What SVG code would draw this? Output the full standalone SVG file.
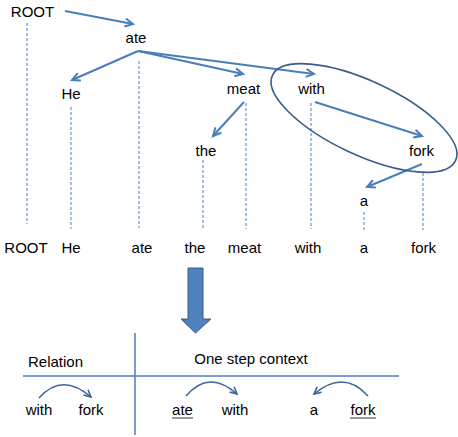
<svg xmlns="http://www.w3.org/2000/svg" width="458" height="437" viewBox="0 0 458 437">
<defs>
<marker id="ah" markerUnits="userSpaceOnUse" markerWidth="12" markerHeight="12" refX="9" refY="5" orient="auto">
<path d="M1,1 L9,5 L1,9" fill="none" stroke="#4a7ebb" stroke-width="2" stroke-linejoin="miter"/>
</marker>
<marker id="ah2" markerUnits="userSpaceOnUse" markerWidth="12" markerHeight="12" refX="8" refY="4.5" orient="auto">
<path d="M1,1 L8,4.5 L1,8" fill="none" stroke="#3b6598" stroke-width="1.6"/>
</marker>
</defs>
<style>
text{font-family:"Liberation Sans",Arial,sans-serif;font-size:15px;fill:#000;text-anchor:middle}
.dash{stroke:#4a7ebb;stroke-width:1;stroke-dasharray:3,2;fill:none}
.arr{stroke:#4a7ebb;stroke-width:2;fill:none;marker-end:url(#ah)}
.carr{stroke:#3b6598;stroke-width:1.6;fill:none;marker-end:url(#ah2)}
.tab{stroke:#4a7ebb;stroke-width:1.5;fill:none}
.ul{stroke:#555;stroke-width:1.2}
</style>
<rect width="458" height="437" fill="#fff"/>
<g id="guides">
<line class="dash" x1="27" y1="23" x2="27" y2="224"/>
<line class="dash" x1="71" y1="107" x2="71" y2="229"/>
<line class="dash" x1="139" y1="61" x2="139" y2="228"/>
<line class="dash" x1="203" y1="160" x2="203" y2="229"/>
<line class="dash" x1="246" y1="103" x2="246" y2="229"/>
<line class="dash" x1="311" y1="103" x2="311" y2="229"/>
<line class="dash" x1="364" y1="212" x2="364" y2="230"/>
<line class="dash" x1="423" y1="173" x2="423" y2="230"/>
</g>
<g id="connectors">
<line class="arr" x1="65" y1="11" x2="133" y2="24"/>
<line class="arr" x1="138" y1="51" x2="72" y2="80"/>
<line class="arr" x1="138" y1="51" x2="243" y2="74"/>
<line class="arr" x1="138" y1="51" x2="314" y2="74"/>
<line class="arr" x1="244" y1="102" x2="213" y2="136"/>
<line class="arr" x1="315" y1="102" x2="422" y2="136"/>
<line class="arr" x1="422" y1="164" x2="367" y2="187"/>
</g>
<g id="n-root"><text x="32.5" y="17">ROOT</text></g>
<g id="n-ate"><text x="136" y="43">ate</text></g>
<g id="n-he"><text x="71" y="99">He</text></g>
<g id="n-meat"><text x="243.5" y="94">meat</text></g>
<g id="n-with"><text x="311.5" y="94">with</text></g>
<g id="n-the"><text x="206" y="156">the</text></g>
<g id="n-fork"><text x="421.5" y="156">fork</text></g>
<g id="n-a"><text x="364" y="206">a</text></g>
<g id="ellipse"><ellipse cx="364" cy="118" rx="101" ry="37" transform="rotate(25 364 118)" fill="none" stroke="#385d8a" stroke-width="1.6"/></g>
<g id="sentence">
<text x="26" y="253">ROOT</text>
<text x="71" y="253">He</text>
<text x="142" y="253">ate</text>
<text x="195" y="253">the</text>
<text x="244.5" y="253">meat</text>
<text x="308" y="253">with</text>
<text x="364" y="253">a</text>
<text x="423.5" y="253">fork</text>
</g>
<g id="big-arrow"><path d="M188,268 L203,268 L203,319 L211,319 L195.5,333 L181,319 L188,319 Z" fill="#4f81bd" stroke="#385d8a" stroke-width="1"/></g>
<g id="table">
<line class="tab" x1="135" y1="333" x2="135" y2="435"/>
<line class="tab" x1="23" y1="376" x2="399" y2="376"/>
<text x="55.5" y="367">Relation</text>
<text x="251" y="364">One step context</text>
<text x="39" y="415">with</text>
<text x="91" y="415">fork</text>
<text x="182.5" y="415">ate</text>
<line class="ul" x1="172" y1="418" x2="193" y2="418"/>
<text x="235" y="415">with</text>
<text x="314" y="415">a</text>
<text x="363" y="415">fork</text>
<line class="ul" x1="350" y1="418" x2="376" y2="418"/>
<path class="carr" d="M39,398 Q62,372 91,397"/>
<path class="carr" d="M186,396 Q209,369 237,394"/>
<path class="carr" d="M368,396 Q344,369 314,394"/>
</g>
</svg>
